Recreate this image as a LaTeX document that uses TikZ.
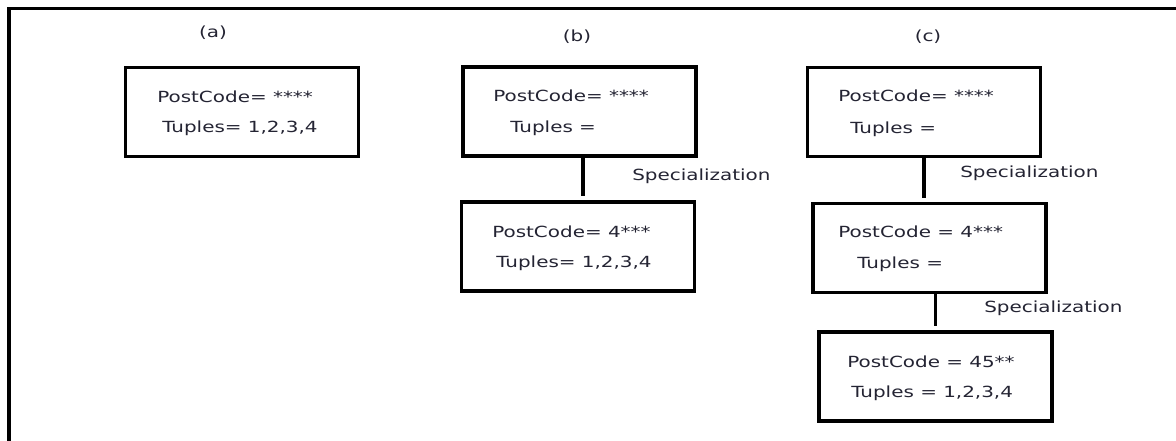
\documentclass[tikz,border=0pt]{standalone}
\usepackage{fontspec}
\setmainfont[FakeStretch=1.3]{DejaVu Sans}
\usepackage{tikz}
\usepackage{xcolor}

\definecolor{txtcol}{rgb}{0.14,0.14,0.2}

\begin{document}
\begin{tikzpicture}[x=0.75pt, y=-0.75pt,
    recbox/.style={draw, line width=2.6pt, minimum width=175pt, minimum height=67pt, inner sep=0pt},
    txt/.style={anchor=west, inner sep=0pt, text=txtcol, font=\fontsize{11.5}{13}\selectfont},
    lab/.style={inner sep=0pt, text=txtcol, font=\fontsize{11.5}{13}\selectfont},
    link/.style={line width=2.6pt, shorten >=3pt}]
    \useasboundingbox (0,0) rectangle (1176,441);

    % outer frame (only top and left edge visible)
    \draw[line width=2.6pt] (9,441) -- (9,8.5) -- (1176,8.5);

    % sub-figure labels
    \node[lab] (labA) at (213,33) {(a)};
    \node[lab] (labB) at (577,37) {(b)};
    \node[lab] (labC) at (928,37) {(c)};

    % (a) single node
    \node[recbox] (a1) at (242,112) {};
    \node[txt] (a1p) at (157,97) {PostCode= ****};
    \node[txt] (a1t) at (162,128) {Tuples= 1,2,3,4};

    % (b) one specialization
    \node[recbox] (b1) at (579.5,111.5) {};
    \node[txt] (b1p) at (493,96) {PostCode= ****};
    \node[txt] (b1t) at (510,128) {Tuples =};

    \node[recbox] (b2) at (578,246.5) {};
    \node[txt] (b2p) at (492,232) {PostCode= 4***};
    \node[txt] (b2t) at (496,263) {Tuples= 1,2,3,4};

    \draw[link] (b1.south -| 583,0) -- (b2.north -| 583,0);
    \node[txt] (b12) at (632,176) {Specialization};

    % (c) two specializations
    \node[recbox] (c1) at (924,112) {};
    \node[txt] (c1p) at (838,96) {PostCode= ****};
    \node[txt] (c1t) at (850,129) {Tuples =};

    \node[recbox] (c2) at (929.5,248) {};
    \node[txt] (c2p) at (838,232) {PostCode = 4***};
    \node[txt] (c2t) at (857,264) {Tuples =};

    \node[recbox] (c3) at (935.5,376.5) {};
    \node[txt] (c3p) at (847,362) {PostCode = 45**};
    \node[txt] (c3t) at (851,393) {Tuples = 1,2,3,4};

    \draw[link] (c1.south) -- (c2.north -| c1.south);
    \node[txt] (c12) at (960,173) {Specialization};
    \draw[link] (c2.south -| c3.north) -- (c3.north);
    \node[txt] (c23) at (984,308) {Specialization};
\end{tikzpicture}
\end{document}
